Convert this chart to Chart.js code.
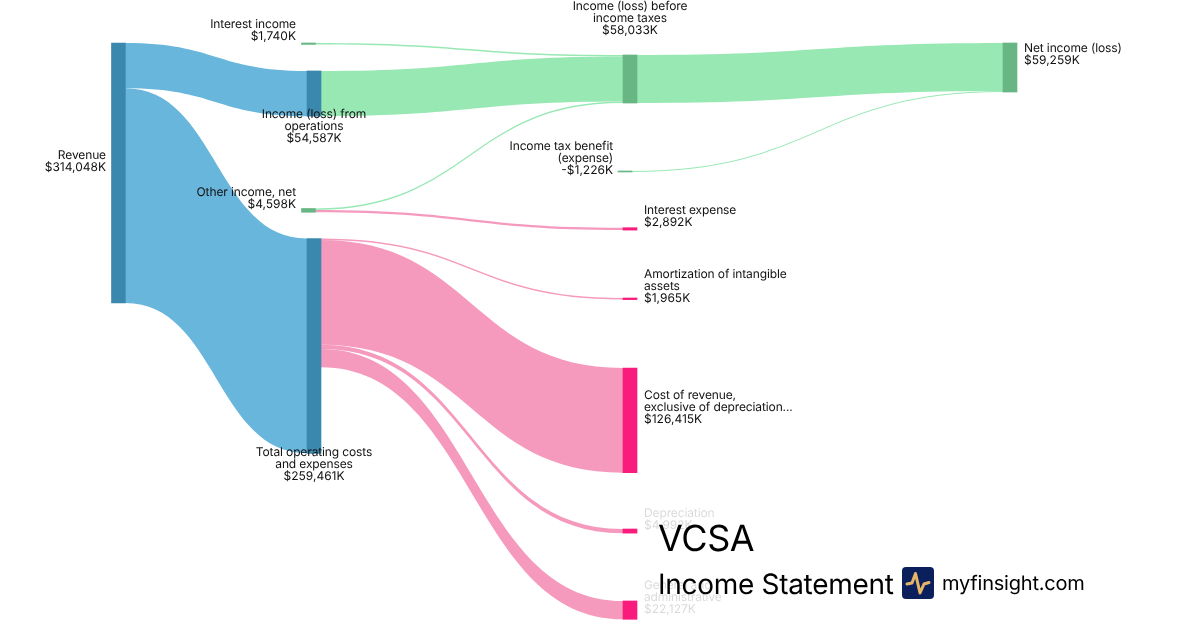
<!DOCTYPE html>
<html>
<head>
<meta charset="utf-8">
<script src="https://cdn.jsdelivr.net/npm/chart.js@4/dist/chart.umd.min.js"></script>
<style>
    html, body { margin: 0; padding: 0; background: #fff; }
    #wrap { position: relative; width: 1200px; height: 630px; overflow: hidden; font-family: Inter, sans-serif; color: #000; text-rendering: geometricPrecision; }
    #fade { position: absolute; left: 640px; top: 500px; width: 460px; height: 130px; background: rgba(255, 255, 255, 0.84); }
    .txt { position: absolute; white-space: nowrap; line-height: 1; letter-spacing: -0.0107em; }
    #logo { position: absolute; left: 902px; top: 567px; }
</style>
</head>
<body>
<div id="wrap">
    <canvas id="sankeyChart" width="1200" height="630"></canvas>
    <div id="fade"></div>
    <div class="txt" style="left:658px;top:520px;font-size:36px">VCSA</div>
    <div class="txt" style="left:658px;top:570px;font-size:28px">Income Statement</div>
    <svg id="logo" width="32" height="32" viewBox="0 0 32 32">
        <rect width="32" height="32" rx="4" fill="#0a1f5c"></rect>
        <polyline points="5,17 10,16 13.5,6.5 18,26 22,17 27,15.5" fill="none" stroke="#e6b566" stroke-width="3" stroke-linecap="round" stroke-linejoin="round"></polyline>
    </svg>
    <div class="txt" style="left:942px;top:573px;font-size:20px">myfinsight.com</div>
</div>
<script>
// nodes, values in $K
const nodeNames = ["Revenue", "Interest income", "Income (loss) from operations", "Other income, net", "Total operating costs and expenses", "Income (loss) before income taxes", "Income tax benefit (expense)", "Interest expense", "Amortization of intangible assets", "Cost of revenue, exclusive of depreciation...", "Depreciation", "General and administrative", "Net income (loss)"];
const nodeValues = [314048, 1740, 54587, 4598, 259461, 58033, 1226, 2892, 1965, 126415, 4992, 22127, 59259];
const nodeValueLabels = ["$314,048K", "$1,740K", "$54,587K", "$4,598K", "$259,461K", "$58,033K", "-$1,226K", "$2,892K", "$1,965K", "$126,415K", "$4,992K", "$22,127K", "$59,259K"];

// links
const linkSource = [0, 0, 1, 2, 3, 3, 5, 6, 4, 4, 4, 4];
const linkTarget = [2, 4, 5, 5, 5, 7, 12, 12, 8, 9, 10, 11];
const linkValues = [54587, 259461, 1740, 54587, 1706, 2892, 58033, 1226, 1965, 126415, 4992, 22127];

// sankey layout, in axis units (x = column position, y = $K from the top)
const nodeColumn = [118.5, 308.5, 314, 308.5, 314, 630, 625, 630, 630, 630, 630, 630, 1010];
const nodeTop = [51900, 51900, 85700, 251800, 288000, 66400, 206500, 275000, 359900, 444400, 638900, 725800, 51900];

const nodeColors = ["#3a88ae", "#68b684", "#3a88ae", "#68b684", "#3a88ae", "#68b684", "#68b684", "#f91c7d", "#f91c7d", "#f91c7d", "#f91c7d", "#f91c7d", "#68b684"];
const linkColors = ["#69b6dc", "#69b6dc", "#98e8b4", "#98e8b4", "#98e8b4", "#f59abd", "#98e8b4", "#98e8b4", "#f59abd", "#f59abd", "#f59abd", "#f59abd"];

const NODE_WIDTH = 14;
const LINE_HEIGHT = 12;

// text lines and where the first one goes
const labelLines = [["Revenue"], ["Interest income"], ["Income (loss) from", "operations"], ["Other income, net"], ["Total operating costs", "and expenses"], ["Income (loss) before", "income taxes"], ["Income tax benefit", "(expense)"], ["Interest expense"], ["Amortization of intangible", "assets"], ["Cost of revenue,", "exclusive of depreciation..."], ["Depreciation"], ["General and", "administrative"], ["Net income (loss)"]];
const labelX = [106, 296, 314, 296, 314, 630, 613, 644, 644, 644, 644, 644, 1024];
const labelY = [155, 24, 114, 192, 452, 6, 146, 210, 274, 395, 513, 585, 48];
const labelAlign = ["right", "right", "center", "right", "center", "center", "right", "left", "left", "left", "left", "left", "left"];

// flows are drawn under the node bars
const sankeyLinks = {
    id: "sankeyLinks",
    beforeDatasetsDraw(chart) {
        const { ctx, scales } = chart;
        const { x, y } = scales;
        const thickness = (v) => y.getPixelForValue(v) - y.getPixelForValue(0);
        const outUsed = nodeNames.map(() => 0);
        const inUsed = nodeNames.map(() => 0);

        linkValues.forEach((value, i) => {
            const s = linkSource[i];
            const t = linkTarget[i];
            const h = thickness(value);
            const x0 = x.getPixelForValue(nodeColumn[s]) + NODE_WIDTH / 2;
            const x1 = x.getPixelForValue(nodeColumn[t]) - NODE_WIDTH / 2;
            const y0 = y.getPixelForValue(nodeTop[s]) + outUsed[s];
            const y1 = y.getPixelForValue(nodeTop[t]) + inUsed[t];
            const mid = (x0 + x1) / 2;
            outUsed[s] += h;
            inUsed[t] += h;

            ctx.save();
            ctx.fillStyle = linkColors[i];
            ctx.beginPath();
            ctx.moveTo(x0, y0);
            ctx.bezierCurveTo(mid, y0, mid, y1, x1, y1);
            ctx.lineTo(x1, y1 + h);
            ctx.bezierCurveTo(mid, y1 + h, mid, y0 + h, x0, y0 + h);
            ctx.closePath();
            ctx.fill();
            ctx.restore();
        });
    },
};

const sankeyLabels = {
    id: "sankeyLabels",
    afterDatasetsDraw(chart) {
        const { ctx } = chart;
        ctx.save();
        ctx.font = "12px Inter, sans-serif";
        ctx.textRendering = "geometricPrecision";
        ctx.fillStyle = "#111";
        ctx.textBaseline = "middle";
        labelLines.forEach((lines, i) => {
            ctx.textAlign = labelAlign[i];
            ctx.letterSpacing = "-0.12px";
            lines.forEach((line, n) => {
                ctx.fillText(line, labelX[i], labelY[i] + n * LINE_HEIGHT);
            });
            // the value line keeps normal spacing
            ctx.letterSpacing = "0px";
            ctx.fillText(nodeValueLabels[i], labelX[i], labelY[i] + lines.length * LINE_HEIGHT);
        });
        ctx.restore();
    },
};

const ctx = document.getElementById("sankeyChart").getContext("2d");

new Chart(ctx, {
    type: "bar",
    plugins: [sankeyLinks, sankeyLabels],
    data: {
        labels: nodeNames,
        datasets: [
            {
                data: nodeValues.map((v, i) => ({ x: nodeColumn[i], y: [nodeTop[i], nodeTop[i] + v] })),
                backgroundColor: nodeColors,
                barThickness: NODE_WIDTH,
                borderWidth: 0,
            },
        ],
    },
    options: {
        responsive: false,
        animation: false,
        layout: { padding: 0 },
        plugins: { legend: { display: false }, title: { display: false }, tooltip: { enabled: false } },
        scales: {
            x: { type: "linear", display: false, min: 0, max: 1200, offset: false },
            y: { type: "linear", display: false, min: 0, max: 760870, reverse: true },
        },
    },
});
</script>
</body>
</html>
